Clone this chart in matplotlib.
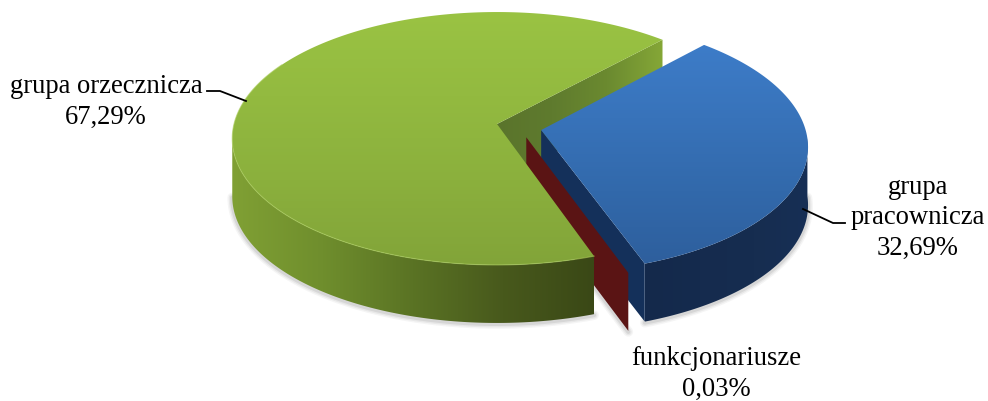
import numpy as np
import matplotlib
matplotlib.use('Agg')
import matplotlib.pyplot as plt
from matplotlib.colors import LinearSegmentedColormap
from matplotlib.patches import Polygon

# slices, clockwise from the start angle
names = ['grupa\npracownicza', 'funkcjonariusze', 'grupa orzecznicza']
values = [32.69, 0.03, 67.29]

START = 43.0
# fake 3D: disc radius in px, perspective strength, depth of the pie
CX, CY, RX, RY, K, DEPTH = 497, 124, 263, 124.8, 0.1146, 58
SHIFT = {'grupa\npracownicza': (0.167, -0.048),
         'funkcjonariusze': (0.110, -0.105),
         'grupa orzecznicza': (0.0, 0.0)}

plt.rcParams['font.family'] = ['Liberation Serif', 'DejaVu Serif']
fig = plt.figure(figsize=(9.88, 4.01), dpi=100)
ax = fig.add_axes([0, 0, 1, 1])


def project(ang, r, shift):
    # angle in degrees clockwise from the top of the disc
    u = r * np.sin(np.radians(ang)) + shift[0]
    v = r * np.cos(np.radians(ang)) + shift[1]
    s = 1 / (1 + K * v)
    return np.column_stack([CX + RX * u * s, CY - RY * v * s])


def arc(a0, a1, shift):
    return project(np.linspace(a0, a1, 200), 1.0, shift)


def gradient(pts, colors, horizontal=False, zorder=1):
    # fill a polygon with a linear gradient clipped to it
    cmap = LinearSegmentedColormap.from_list('g', colors)
    x0, x1 = pts[:, 0].min(), pts[:, 0].max()
    y0, y1 = pts[:, 1].min(), pts[:, 1].max()
    ramp = np.linspace(0, 1, 256)
    ramp = ramp[None, :] if horizontal else ramp[:, None]
    im = ax.imshow(ramp, cmap=cmap, extent=(x0, x1, y1, y0), aspect='auto',
                   interpolation='bilinear', zorder=zorder, vmin=0, vmax=1)
    patch = Polygon(pts, closed=True, fc='none', ec='none', transform=ax.transData)
    ax.add_patch(patch)
    im.set_clip_path(patch)


def down(pts):
    return pts + np.array([0, DEPTH])


def soft_shadow(pts, zorder):
    for lw, a in [(7, 0.05), (5, 0.07), (3, 0.1)]:
        ax.plot(pts[:, 0], pts[:, 1] + 1, color='#404040', lw=lw, alpha=a,
                solid_capstyle='round', zorder=zorder)


def widest(shift):
    # angle where the projected disc is widest
    return np.degrees(np.arccos(-K - shift[1]))


# slice angles come from the values
total = sum(values)
spans = [v / total * 360 for v in values]
a_blue = (START, START + spans[0])
a_red = (a_blue[1], a_blue[1] + spans[1])
a_green = (a_red[1], START + 360)

s_blue = SHIFT[names[0]]
s_red = SHIFT[names[1]]
s_green = SHIFT[names[2]]

# green cut face at the back
apex = project(np.array([0.0]), 0.0, s_green)
end = project(np.array([a_green[1]]), 1.0, s_green)
face = np.vstack([apex, end, down(end), down(apex)])
gradient(face, ['#5a742c', '#5f7b2e', '#6b8a30', '#85a737'], horizontal=True, zorder=1)

# blue slice
top = arc(*a_blue, s_blue)
apex = project(np.array([0.0]), 0.0, s_blue)
side = arc(widest(s_blue), a_blue[1], s_blue)
soft_shadow(down(side), 2)
gradient(np.vstack([side, down(side)[::-1]]), ['#14294b', '#152b4e', '#162d50', '#172f55'],
         horizontal=True, zorder=3)
inner = np.vstack([apex, top[-1:], down(top[-1:]), down(apex)])
ax.add_patch(Polygon(inner, closed=True, fc='#14305a', ec='none', zorder=4))
gradient(np.vstack([apex, top]), ['#3d7cc8', '#3873ba', '#3269ab', '#2e5f9d'], zorder=5)

# red slice is only a thin wall
apex = project(np.array([0.0]), 0.0, s_red)
top = arc(*a_red, s_red)
wall = np.vstack([apex, top[-1:], down(top[-1:]), down(apex)])
soft_shadow(wall[2:], 6)
ax.add_patch(Polygon(wall, closed=True, fc='#5a1414', ec='none', zorder=7))

# green slice sits in front of the red wall
top = arc(*a_green, s_green)
apex = project(np.array([0.0]), 0.0, s_green)
side = arc(a_green[0], 360 - widest(s_green), s_green)
soft_shadow(down(side), 8)
gradient(np.vstack([side, down(side)[::-1]]),
         ['#80a034', '#6f8e2d', '#5a7324', '#48591c', '#3a4816'],
         horizontal=True, zorder=9)
gradient(np.vstack([apex, top]), ['#9ac343', '#93ba40', '#8bb03d', '#82a439'], zorder=10)
rim = arc(a_green[0], 300, s_green)
ax.plot(rim[:, 0], rim[:, 1], color='#a9cc5a', lw=0.8, alpha=0.6, zorder=11)

# labels
fs = 19.2
label_pos = [(918, 218), (716, 374), (106, 102)]
for name, value, (x, y) in zip(names, values, label_pos):
    txt = name + '\n' + f'{value:.2f}%'.replace('.', ',')
    ax.text(x, y, txt, ha='center', va='center', fontsize=fs, color='black',
            linespacing=1.3, zorder=20)

ax.plot([207, 220, 246], [91, 91, 101], color='black', lw=1.3, zorder=20)
ax.plot([803, 833, 845], [209, 223, 223], color='black', lw=1.3, zorder=20)

ax.set_xlim(0, 988)
ax.set_ylim(401, 0)
ax.axis('off')
fig.savefig('out.png', dpi=100, facecolor='white')
